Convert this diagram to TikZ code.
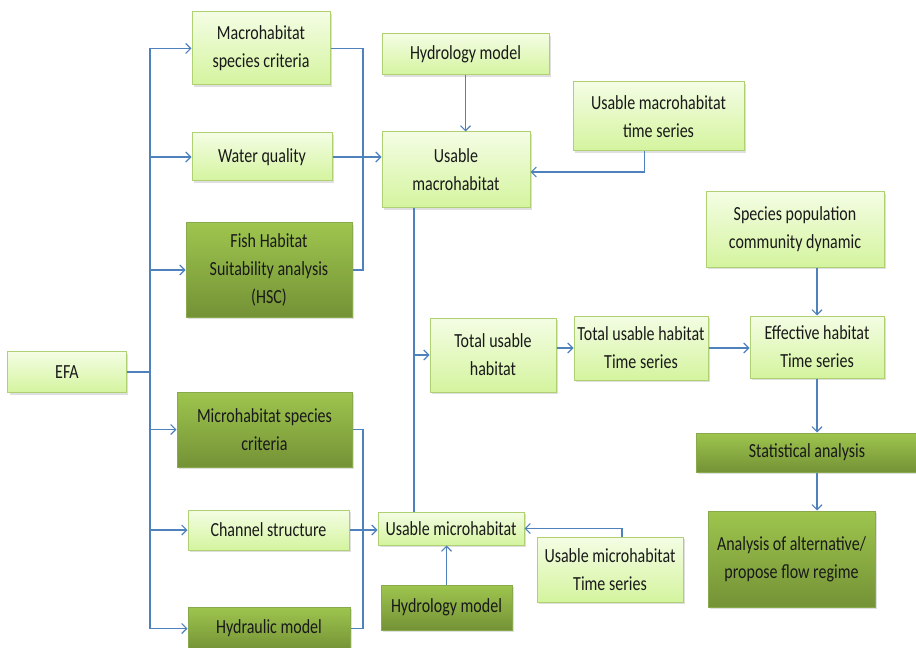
\documentclass[tikz,border=0pt]{standalone}
\usepackage{fontspec}
\setmainfont{Carlito}[FakeStretch=0.8]
\usepackage{tikz}
\usetikzlibrary{arrows.meta,shadows}
\definecolor{linkblue}{RGB}{79,129,189}
\definecolor{lighttop}{RGB}{244,253,228}
\definecolor{lightbot}{RGB}{212,244,158}
\definecolor{lightline}{RGB}{176,208,116}
\definecolor{darktop}{RGB}{158,197,78}
\definecolor{darkbot}{RGB}{116,146,54}
\definecolor{darkline}{RGB}{136,170,76}
\tikzset{
  box/.style={draw,line width=1bp,align=center,inner sep=2bp,
    font=\fontsize{20bp}{28bp}\selectfont,text=black!90,
    drop shadow={shadow xshift=2bp,shadow yshift=-2bp,opacity=0.25}},
  light/.style={box,draw=lightline,top color=lighttop,bottom color=lightbot},
  dark/.style={box,draw=darkline,top color=darktop,bottom color=darkbot},
  sz/.style 2 args={minimum width=#1bp,minimum height=#2bp},
  link/.style={draw=linkblue,line width=1.1bp},
  arr/.style={link,-{Straight Barb[length=5bp,width=10bp]}}
}

\begin{document}
\begin{tikzpicture}[x=1bp,y=-1bp]

\useasboundingbox (0,0) rectangle (916,648);

% inputs
\node[light,sz={118}{41}] (efa) at (67,372) {EFA};
\node[light,sz={138}{73}] (macsp) at (261,48.5) {Macrohabitat\\species criteria};
\node[light,sz={140}{48}] (wq) at (262,157) {Water quality};
\node[dark,sz={166}{94}] (fish) at (269,270) {Fish Habitat\\Suitability analysis\\(HSC)};
\node[dark,sz={175}{75}] (micsp) at (264.5,429.5) {Microhabitat species\\criteria};
\node[light,sz={161}{40}] (chan) at (268.5,530) {Channel structure};
\node[dark,sz={162}{43}] (hydr) at (269,628.5) {Hydraulic model};

% habitat models
\node[light,sz={167}{41}] (hydtop) at (465.5,54.5) {Hydrology model};
\node[light,sz={148}{76}] (usemac) at (456,170) {Usable\\macrohabitat};
\node[light,sz={171}{69}] (umts) at (658.5,116.5) {Usable macrohabitat\\time series};
\node[light,sz={146}{33}] (umic) at (451,528.5) {Usable microhabitat};
\node[light,sz={146}{65}] (umicts) at (610,569.5) {Usable microhabitat\\Time series};
\node[dark,sz={131}{45}] (hydbot) at (446.5,607.5) {Hydrology model};

% outputs
\node[light,sz={126}{74}] (tuh) at (493,355) {Total usable\\habitat};
\node[light,sz={134}{64}] (tuhts) at (641,348) {Total usable habitat\\Time series};
\node[light,sz={178}{75}] (spc) at (795,229.5) {Species population\\community dynamic};
\node[light,sz={134}{62}] (eff) at (817,347) {Effective habitat\\Time series};
\node[dark,sz={222}{39}] (stat) at (807,452.5) {Statistical analysis};
\node[dark,sz={167}{96}] (alt) at (791.5,559) {Analysis of alternative/\\propose flow regime};

\coordinate (trunk) at (150,0);
\coordinate (macbar) at (363,0);
\coordinate (micbar) at (363,0);
\coordinate (spine) at (414,0);

% EFA branches
\draw[link] (efa.east) -- (trunk |- efa.east);
\draw[link] (trunk |- macsp.west) -- (trunk |- hydr.west);
\foreach \n in {macsp,wq,fish,micsp,chan,hydr}
  \draw[arr] (trunk |- \n.west) -- (\n.west);

% macro and micro brackets
\draw[link] (macsp.east) -| (macbar |- fish.east) -- (fish.east);
\draw[arr] (wq.east) -- (usemac.west |- wq.east);
\draw[link] (micsp.east) -| (micbar |- hydr.east) -- (hydr.east);
\draw[arr] (chan.east) -- (umic.west |- chan.east);

\draw[arr] (hydtop.south) -- (hydtop.south |- usemac.north);
\draw[arr] ([xshift=-14bp]umts.south) |- ([yshift=-2bp]usemac.east);
\draw[link] (spine |- usemac.south) -- (spine |- umic.north);
\draw[arr] (spine |- tuh.west) -- (tuh.west);
\draw[arr] ([xshift=12bp]umicts.north) |- (umic.east);
\draw[arr] (hydbot.north) -- (hydbot.north |- umic.south);

% habitat chain
\draw[arr] (tuh.east |- tuhts.west) -- (tuhts.west);
\draw[arr] (tuhts.east) -- (tuhts.east -| eff.west);
\draw[arr] (spc.south -| eff.north) -- (eff.north);
\draw[arr] (eff.south) -- (eff.south |- stat.north);
\draw[arr] (eff.south |- stat.south) -- (eff.south |- alt.north);
\end{tikzpicture}
\end{document}
